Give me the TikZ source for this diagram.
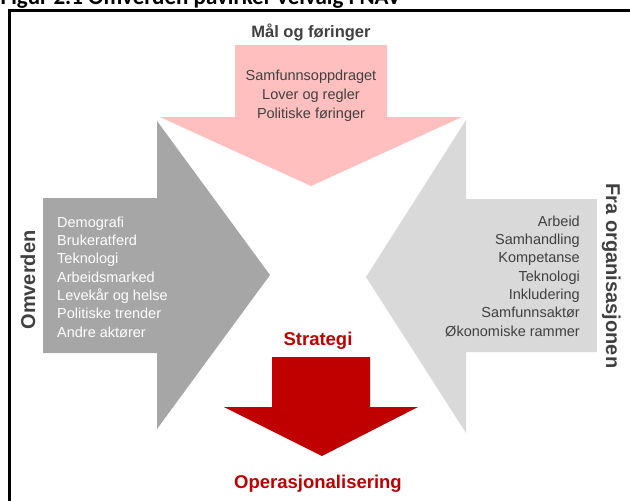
\documentclass[tikz,border=0pt]{standalone}
\usepackage{fontspec}
\setmainfont{Liberation Sans}
\newfontfamily\titlefont{Carlito}
\usepackage{tikz}

\definecolor{rosa}{HTML}{FFBFBF}
\definecolor{mørkgrå}{HTML}{A6A6A6}
\definecolor{lysgrå}{HTML}{D9D9D9}
\definecolor{navrød}{HTML}{C00000}
\definecolor{tekstgrå}{HTML}{404040}

\tikzset{
	liste/.style={inner sep=0pt,font=\fontsize{14.5}{18.3}\selectfont},
	overskrift/.style={inner sep=0pt,font=\bfseries\fontsize{16.5}{19}\selectfont,text=tekstgrå},
	sidenavn/.style={inner sep=0pt,font=\bfseries\fontsize{20}{24}\selectfont,text=tekstgrå},
	rødtekst/.style={inner sep=0pt,font=\bfseries\fontsize{18.5}{22}\selectfont,text=navrød}
}

\begin{document}
\begin{tikzpicture}[x=1pt,y=-1pt]
	\useasboundingbox (0,0) rectangle (630,501);
	\clip (0,0) rectangle (630,501);
	% tittel og ramme
	\node[inner sep=0pt,anchor=base west,font=\titlefont\bfseries\fontsize{23}{26}\selectfont] (tittel) at (0.5,4) {Figur 2.1 Omverden påvirker veivalg i NAV};
	\draw [line width=3pt] (9.8,501) -- (9.8,10.8) -- (630,10.8);
	% pilene
	\fill [mørkgrå] (43,198) -- (157,198) -- (157,121) -- (270,275) -- (157,429) -- (157,353) -- (43,353) -- cycle;
	\fill [lysgrå] (597,199) -- (466,199) -- (466,120) -- (366,277) -- (466,433) -- (466,352) -- (597,352) -- cycle;
	\fill [rosa] (235,45) -- (387,45) -- (387,117) -- (462,117) -- (311,186) -- (160,117) -- (235,117) -- cycle;
	\fill [navrød] (272,357) -- (370,357) -- (370,407) -- (418,407) -- (322,456) -- (224,407) -- (272,407) -- cycle;
	% tekster (base = siste linje)
	\node[overskrift,anchor=base] (maal) at (311,37) {Mål og føringer};
	\node[liste,anchor=base,align=center,text=tekstgrå,font=\fontsize{14.5}{19}\selectfont] (maaltekst) at (311,118) {Samfunnsoppdraget\\Lover og regler\\Politiske føringer};
	\node[sidenavn,anchor=base,rotate=90] (omverden) at (35,280) {Omverden};
	\node[liste,anchor=base west,align=left,text=white] (omvliste) at (57,337) {Demografi\\Brukeratferd\\Teknologi\\Arbeidsmarked\\Levekår og helse\\Politiske trender\\Andre aktører};
	\node[sidenavn,anchor=base,rotate=-90] (orgnavn) at (606,276) {Fra organisasjonen};
	\node[liste,anchor=base east,align=right,text=tekstgrå] (orgliste) at (580,336) {Arbeid\\Samhandling\\Kompetanse\\Teknologi\\Inkludering\\Samfunnsaktør\\Økonomiske rammer};
	\node[rødtekst,anchor=base] (strategi) at (318,345) {Strategi};
	\node[rødtekst,anchor=base] (operasjon) at (318,488) {Operasjonalisering};
\end{tikzpicture}
\end{document}
